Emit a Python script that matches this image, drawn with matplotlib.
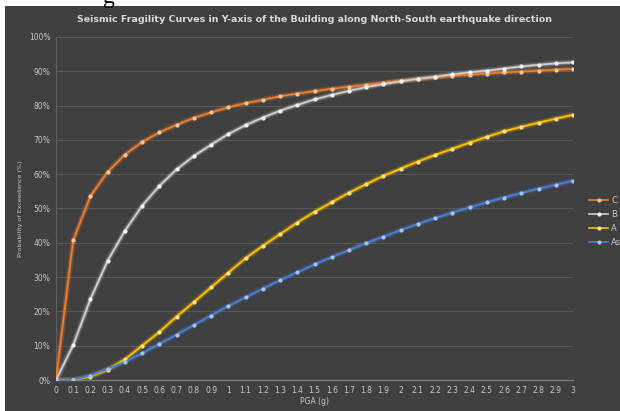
import matplotlib
matplotlib.use("Agg")
import matplotlib.pyplot as plt
from matplotlib.patches import Rectangle

pga = [0, 0.1, 0.2, 0.3, 0.4, 0.5, 0.6, 0.7, 0.8, 0.9, 1.0,
       1.1, 1.2, 1.3, 1.4, 1.5, 1.6, 1.7, 1.8, 1.9, 2.0,
       2.1, 2.2, 2.3, 2.4, 2.5, 2.6, 2.7, 2.8, 2.9, 3.0]
tick_labels = ["0", "0.1", "0.2", "0.3", "0.4", "0.5", "0.6", "0.7", "0.8", "0.9", "1",
               "1.1", "1.2", "1.3", "1.4", "1.5", "1.6", "1.7", "1.8", "1.9", "2",
               "2.1", "2.2", "2.3", "2.4", "2.5", "2.6", "2.7", "2.8", "2.9", "3"]

C = [0, 40.8, 53.6, 60.7, 65.7, 69.4, 72.2, 74.4, 76.4, 78.0, 79.5,
     80.7, 81.7, 82.7, 83.5, 84.2, 84.9, 85.5, 86.1, 86.7, 87.2,
     87.7, 88.2, 88.7, 89.0, 89.3, 89.7, 89.9, 90.2, 90.5, 90.7]
B = [0, 10.2, 23.6, 34.8, 43.5, 50.8, 56.6, 61.4, 65.3, 68.6, 71.7,
     74.3, 76.5, 78.5, 80.2, 81.8, 83.1, 84.3, 85.4, 86.3, 87.1,
     87.8, 88.4, 89.1, 89.7, 90.2, 90.8, 91.4, 91.9, 92.3, 92.6]
A = [0, 0.0, 1.0, 3.0, 6.0, 10.0, 14.0, 18.5, 22.7, 27.0, 31.3,
     35.5, 39.1, 42.5, 45.9, 49.0, 51.8, 54.6, 57.1, 59.5, 61.6,
     63.7, 65.6, 67.4, 69.2, 70.9, 72.5, 73.8, 75.0, 76.2, 77.3]
As = [0, 0.0, 1.3, 3.2, 5.3, 7.8, 10.5, 13.2, 16.0, 18.8, 21.6,
      24.1, 26.6, 29.1, 31.4, 33.7, 35.8, 37.9, 39.9, 41.8, 43.7,
      45.5, 47.2, 48.8, 50.3, 51.8, 53.2, 54.5, 55.8, 56.9, 58.1]

series = [("C", C, "#ED7D31", "#F8C8A0"),
          ("B", B, "#D0D0D0", "#F4F4F4"),
          ("A", A, "#FFC000", "#FFE38A"),
          ("As", As, "#4A7FD6", "#A9C4F0")]

bg = "#404040"
txt = "#C8C8C8"

fig = plt.figure(figsize=(6.2, 4.11), dpi=100)
fig.patch.set_facecolor(bg)
# white margins at top and left
fig.patches.append(Rectangle((0, 0), 5 / 620, 1, transform=fig.transFigure,
                             facecolor="white", edgecolor="none", zorder=-5))
fig.patches.append(Rectangle((0, 1 - 6 / 411), 1, 6 / 411, transform=fig.transFigure,
                             facecolor="white", edgecolor="none", zorder=-5))
fig.text(109 / 620, 1.0 + 2 / 411, "g", fontsize=17, family="Liberation Serif", color="black",
         ha="center", va="center")

ax = fig.add_axes([56 / 620, 1 - 380 / 411, (573 - 56) / 620, (380 - 37) / 411])
ax.set_facecolor(bg)
idx = list(range(len(pga)))
for name, vals, col, mcol in series:
    ax.plot(idx, vals, color=col, lw=4.0, alpha=0.2, solid_capstyle="round", zorder=2)
    ax.plot(idx, vals, color=col, lw=2.2, alpha=0.35, solid_capstyle="round", zorder=2)
    ax.plot(idx, vals, color=col, lw=1.2, marker="o", markersize=2.0,
            markerfacecolor=mcol, markeredgecolor=mcol, label=name, zorder=3)

ax.set_xlim(0, len(pga) - 1)
ax.set_ylim(0, 100)
ax.set_xticks(idx)
ax.set_xticklabels(tick_labels)
ax.set_yticks(range(0, 101, 10))
ax.set_yticklabels([f"{v}%" for v in range(0, 101, 10)])
ax.tick_params(axis="both", length=0, labelsize=5.5, colors=txt, pad=4)
ax.grid(axis="y", color="#595959", lw=0.8)
ax.set_axisbelow(True)
for s in ["top", "right"]:
    ax.spines[s].set_visible(False)
ax.spines["left"].set_color("#5f5f5f")
ax.spines["bottom"].set_color("#7a7a7a")
ax.spines["bottom"].set_linewidth(1.0)
ax.set_xlabel("PGA (g)", fontsize=5.5, color=txt, labelpad=2)
ax.set_ylabel("Probability of Exceedance (%)", fontsize=4.6, color=txt, labelpad=4)
ax.set_title("Seismic Fragility Curves in Y-axis of the Building along North-South earthquake direction",
             fontsize=6.8, color="#D9D9D9", fontweight="bold", pad=11)
for sp in ax.spines.values():
    sp.set_zorder(1)

leg = fig.legend(loc="center left", bbox_to_anchor=(589 / 620, 1 - 221.5 / 411),
                 bbox_transform=fig.transFigure, frameon=False,
                 fontsize=6, labelcolor=txt, handlelength=2.3, handletextpad=0.35,
                 borderaxespad=0, borderpad=0, labelspacing=0.6)

fig.savefig("out.png", dpi=100, facecolor=fig.get_facecolor())
